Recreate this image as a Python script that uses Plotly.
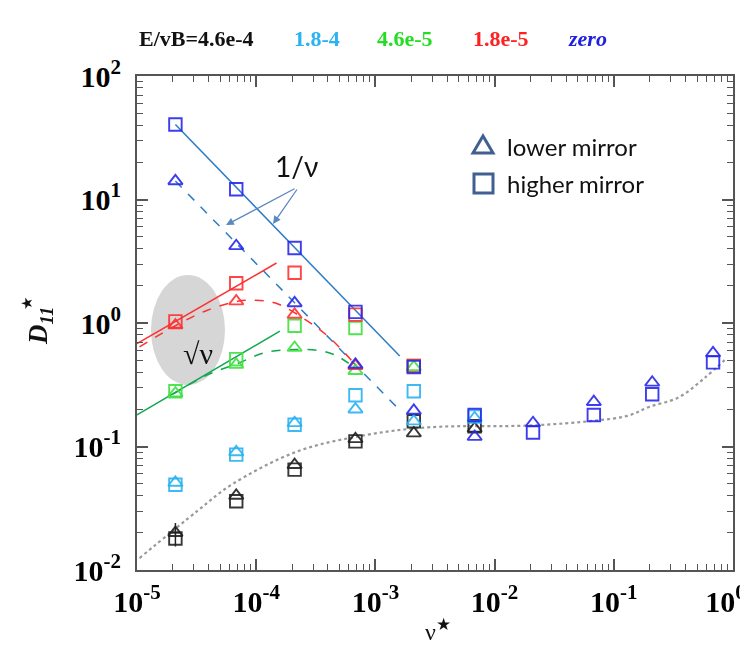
import plotly.graph_objects as go

# ---------------- data ----------------
nu = [2.1e-5, 6.8e-5, 2.1e-4, 6.8e-4, 2.1e-3, 6.8e-3, 2.1e-2, 6.8e-2, 2.1e-1, 6.8e-1]

# E/vB = 4.6e-4 (black)
black_low = [0.020, 0.040, 0.071, 0.115, 0.128, 0.140, None, None, None, None]
black_high = [0.018, 0.036, 0.065, 0.110, 0.160, 0.146, None, None, None, None]
black_err_plus = [0.004]
black_err_minus = [0.0045]
# 1.8e-4 (cyan)
cyan_low = [0.051, 0.090, 0.155, 0.200, 0.160, 0.170, None, None, None, None]
cyan_high = [0.049, 0.086, 0.150, 0.260, 0.280, 0.175, None, None, None, None]
# 4.6e-5 (green)
green_low = [0.27, 0.46, 0.63, 0.41, 0.44, None, None, None, None, None]
green_high = [0.28, 0.51, 0.95, 0.91, 0.45, None, None, None, None, None]
# 1.8e-5 (red)
red_low = [0.96, 1.50, 1.17, 0.45, None, None, None, None, None, None]
red_high = [1.03, 2.10, 2.55, 1.17, 0.45, None, None, None, None, None]
# zero (blue)
blue_low = [14.1, 4.2, 1.45, 0.46, 0.195, 0.120, 0.155, 0.23, 0.33, 0.57]
blue_high = [40.5, 12.1, 4.05, 1.23, 0.44, 0.180, 0.130, 0.18, 0.265, 0.48]

# fitted / model lines
blue_solid_x = [2.1e-5, 1.6e-3]
blue_solid_y = [40.5, 0.54]
blue_dash_x = [2.1e-5, 1.5e-3]
blue_dash_y = [14.1, 0.21]
red_solid_x = [1.0e-5, 1.48e-4]
red_solid_y = [0.68, 3.06]
green_solid_x = [1.0e-5, 1.58e-4]
green_solid_y = [0.18, 0.86]
red_dash_x = [1.05e-5, 2.1e-5, 3.9e-5, 7.0e-5, 9.5e-5, 1.45e-4, 2.6e-4, 4.0e-4, 6.8e-4]
red_dash_y = [0.64, 0.95, 1.27, 1.50, 1.53, 1.45, 1.06, 0.78, 0.46]
green_dash_x = [2.0e-5, 3.9e-5, 7.0e-5, 1.18e-4, 2.1e-4, 3.3e-4, 4.6e-4, 6.8e-4]
green_dash_y = [0.265, 0.38, 0.47, 0.575, 0.61, 0.60, 0.55, 0.43]
dot_x = [1.05e-5, 3.2e-5, 6.2e-5, 2.2e-4, 8.0e-4, 2.8e-3, 2.0e-2, 6.9e-2, 1.3e-1, 2.0e-1, 3.5e-1, 5.8e-1, 8.5e-1]
dot_y = [0.0125, 0.030, 0.049, 0.091, 0.123, 0.143, 0.148, 0.162, 0.177, 0.21, 0.25, 0.36, 0.50]

x_tickvals = [1e-5, 1e-4, 1e-3, 1e-2, 1e-1, 1e0]
x_ticktext = ["10<sup>-5</sup>", "10<sup>-4</sup>", "10<sup>-3</sup>", "10<sup>-2</sup>", "10<sup>-1</sup>",
              "10<sup>0</sup>&nbsp;&nbsp;"]
y_tickvals = [1e-2, 1e-1, 1e0, 1e1, 1e2]
y_ticktext = ["10<sup>-2</sup>", "10<sup>-1</sup>", "10<sup>0</sup>", "10<sup>1</sup>", "10<sup>2</sup>"]

series_labels = ["E/vB=4.6e-4", "1.8-4", "4.6e-5", "1.8e-5", "<i>zero</i>"]

# ---------------- style ----------------
W, H = 748, 648
L, R, T, B = 129, 23, 68, 86
PW, PH = W - L - R, H - T - B


def px(x):
    return (x - L) / PW


def py(y):
    return (H - B - y) / PH


C_BLACK = "#222222"
C_CYAN = "#2AB2F2"
C_GREEN = "#3FE03F"
C_RED = "#FF3030"
C_BLUE = "#2828EE"
C_BLUELINE = "#2E7BC4"
C_GREENLINE = "#10A850"
AXC = "#555555"

fig = go.Figure()


def line(xs, ys, color, dash="solid", width=1.5, shape="linear"):
    fig.add_trace(go.Scatter(x=xs, y=ys, mode="lines", line=dict(color=color, dash=dash, width=width, shape=shape),
                             showlegend=False, hoverinfo="skip"))


def pts(ys, color, symbol):
    fig.add_trace(go.Scatter(x=nu, y=ys, mode="markers",
                             marker=dict(symbol=symbol, size=12.5, color=color,
                                         line=dict(color=color, width=1.9)),
                             opacity=0.9, showlegend=False))


# model lines
line(dot_x, dot_y, "#999999", dash="dot", width=2.2, shape="spline")
line(blue_solid_x, blue_solid_y, C_BLUELINE)
line(blue_dash_x, blue_dash_y, C_BLUELINE, dash="dash")
line(red_solid_x, red_solid_y, C_RED)
line(green_solid_x, green_solid_y, C_GREENLINE)
line(red_dash_x, red_dash_y, C_RED, dash="dash", shape="spline")
line(green_dash_x, green_dash_y, C_GREENLINE, dash="dash", shape="spline")

# data points
pts(black_low, C_BLACK, "triangle-up-open")
pts(black_high, C_BLACK, "square-open")
fig.add_trace(go.Scatter(x=nu[:1], y=black_low[:1], mode="markers",
                         marker=dict(symbol="line-ew-open", size=7, color=C_BLACK, line=dict(color=C_BLACK, width=1.5)),
                         error_y=dict(type="data", symmetric=False, array=black_err_plus,
                                      arrayminus=black_err_minus, color=C_BLACK, thickness=1.5, width=0),
                         showlegend=False))
pts(cyan_low, C_CYAN, "triangle-up-open")
pts(cyan_high, C_CYAN, "square-open")
pts(green_low, C_GREEN, "triangle-up-open")
pts(green_high, C_GREEN, "square-open")
pts(red_low, C_RED, "triangle-up-open")
pts(red_high, C_RED, "square-open")
pts(blue_low, C_BLUE, "triangle-up-open")
pts(blue_high, C_BLUE, "square-open")

# invisible trace to carry the minor-tick overlay axes
fig.add_trace(go.Scatter(x=[1e-3], y=[1e0], xaxis="x2", yaxis="y2", mode="markers",
                         marker=dict(opacity=0), showlegend=False, hoverinfo="skip"))

minor_x = [m * 10.0 ** e for e in range(-5, 0) for m in range(2, 10)]
minor_y = [m * 10.0 ** e for e in range(-2, 2) for m in range(2, 10)]
tickfont = dict(family="Liberation Serif", size=30, color="black", weight="bold")

common = dict(showgrid=False, zeroline=False)
fig.update_layout(
    xaxis=dict(type="log", range=[-5, 0], tickmode="array", tickvals=x_tickvals, ticktext=x_ticktext,
               ticks="inside", ticklen=11, tickwidth=1.5, tickcolor=AXC, ticklabelstandoff=4,
               ticklabeloverflow="allow",
               showline=True, linecolor=AXC, linewidth=2, mirror="allticks", tickfont=tickfont, **common),
    yaxis=dict(type="log", range=[-2, 2], tickmode="array", tickvals=y_tickvals, ticktext=y_ticktext,
               ticks="inside", ticklen=11, tickwidth=1.5, tickcolor=AXC, ticklabelstandoff=8,
               ticklabeloverflow="allow",
               showline=True, linecolor=AXC, linewidth=2, mirror="allticks", tickfont=tickfont, **common),
    xaxis2=dict(type="log", range=[-5, 0], overlaying="x", side="bottom", tickmode="array", tickvals=minor_x,
                ticktext=[""] * len(minor_x), ticks="inside", ticklen=6, tickwidth=1.2, tickcolor=AXC,
                showline=False, mirror="allticks", showticklabels=False, **common),
    yaxis2=dict(type="log", range=[-2, 2], overlaying="y", side="left", tickmode="array", tickvals=minor_y,
                ticktext=[""] * len(minor_y), ticks="inside", ticklen=6, tickwidth=1.2, tickcolor=AXC,
                showline=False, mirror="allticks", showticklabels=False, **common),
)

shapes = [
    dict(type="circle", xref="paper", yref="paper", x0=px(143), x1=px(217), y0=py(377), y1=py(267),
         fillcolor="#D6D6D6", line=dict(width=0), layer="below"),
    dict(type="path", xref="paper", yref="paper",
         path=f"M {px(465)},{py(145)} L {px(475)},{py(128)} L {px(485)},{py(145)} Z",
         line=dict(color="#3F6090", width=3)),
    dict(type="rect", xref="paper", yref="paper", x0=px(466), x1=px(485), y0=py(185), y1=py(166),
         line=dict(color="#3F6090", width=3)),
]

serif_b = dict(family="Liberation Serif", size=22, weight="bold")
annotations = []
label_colors = ["#111111", C_CYAN, "#22DD22", "#FF2020", "#2020E0"]
label_x = [129, 284, 367, 463, 558]
for t, c, xx in zip(series_labels, label_colors, label_x):
    annotations.append(dict(text=t, x=px(xx), y=py(31), xref="paper", yref="paper", xanchor="left",
                            yanchor="middle", showarrow=False, font=dict(serif_b, color=c)))

annotations += [
    dict(text="lower mirror", x=px(497), y=py(138), xref="paper", yref="paper", xanchor="left",
         yanchor="middle", showarrow=False, font=dict(family="Lato", size=24, color="#111111")),
    dict(text="higher mirror", x=px(497), y=py(175), xref="paper", yref="paper", xanchor="left",
         yanchor="middle", showarrow=False, font=dict(family="Lato", size=24, color="#111111")),
    dict(text="1/ν", x=px(288), y=py(158), xref="paper", yref="paper", xanchor="center", yanchor="middle",
         showarrow=False, font=dict(family="Lato", size=28, color="#111111")),
    dict(text="", x=px(218), y=py(217), xref="paper", yref="paper", showarrow=True, ax=70, ay=-37,
         arrowhead=2, arrowsize=1.2, arrowwidth=1.3, arrowcolor="#5A88C0"),
    dict(text="", x=px(265), y=py(216), xref="paper", yref="paper", showarrow=True, ax=25, ay=-36,
         arrowhead=2, arrowsize=1.2, arrowwidth=1.3, arrowcolor="#5A88C0"),
    dict(text="√ν", x=px(190), y=py(345), xref="paper", yref="paper", xanchor="center", yanchor="middle",
         showarrow=False, font=dict(family="Liberation Serif", size=30, color="#111111")),
    dict(text="<b><i>D</i></b><sub><b><i>11</i></b></sub>", x=px(32), y=py(318),
         xref="paper", yref="paper", xanchor="center", yanchor="middle", showarrow=False, textangle=-90,
         font=dict(family="Liberation Serif", size=27, color="#111111")),
    dict(text="★", x=px(19), y=py(296), xref="paper", yref="paper", xanchor="center", yanchor="middle",
         showarrow=False, textangle=-90, font=dict(family="DejaVu Sans", size=15, color="#111111")),
    dict(text="ν<sup>★</sup>", x=px(430), y=py(622), xref="paper", yref="paper", xanchor="center",
         yanchor="middle", showarrow=False, font=dict(family="Liberation Serif", size=24, color="#111111")),
]

fig.update_layout(width=W, height=H, margin=dict(l=L, r=R, t=T, b=B, autoexpand=False),
                  paper_bgcolor="white", plot_bgcolor="white", shapes=shapes, annotations=annotations,
                  showlegend=False)

fig.write_html("out.html")
